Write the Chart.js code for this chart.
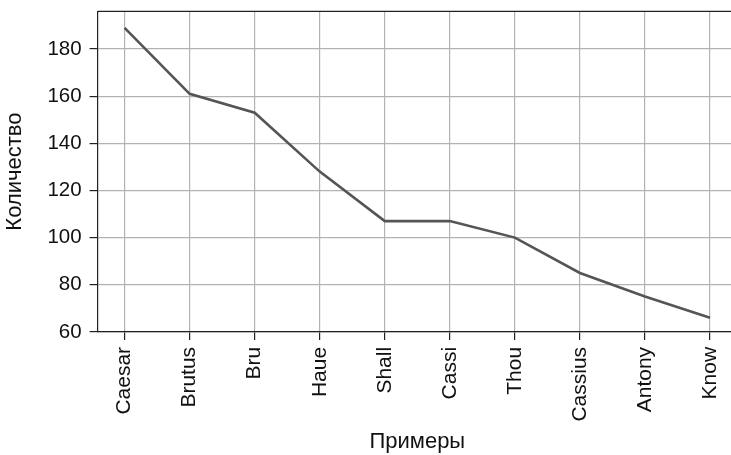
<!DOCTYPE html>
<html>
<head>
<meta charset="utf-8">
<script src="https://cdn.jsdelivr.net/npm/chart.js@4/dist/chart.umd.min.js"></script>
<style>
  html, body { margin: 0; padding: 0; background: #fff; overflow: hidden; }
  #myChart { display: block; margin-top: -9px; }
</style>
</head>
<body>
<canvas id="myChart" width="745" height="464"></canvas>
<script>
const categorias = ['Caesar', 'Brutus', 'Bru', 'Haue', 'Shall', 'Cassi', 'Thou', 'Cassius', 'Antony', 'Know'];
const cantidades = [189, 161, 153, 128, 107, 107, 100, 85, 75, 66];
const yTicks = [60, 80, 100, 120, 140, 160, 180];

const familia = "'Liberation Sans', Arial, sans-serif";

// marco superior y derecho del area del grafico
const marco = {
    id: 'marco',
    afterDraw(chart) {
        const a = chart.chartArea;
        const c = chart.ctx;
        c.save();
        c.strokeStyle = '#222';
        c.lineWidth = 1.2;
        c.beginPath();
        c.moveTo(a.left, a.top);
        c.lineTo(a.right, a.top);
        c.lineTo(a.right, a.bottom);
        c.stroke();
        c.restore();
    }
};

const ctx = document.getElementById('myChart').getContext('2d');
const myChart = new Chart(ctx, {
    type: 'line',
    data: {
        datasets: [{
            data: cantidades.map((v, i) => ({ x: i, y: v })),
            borderColor: '#555555',
            borderWidth: 2.6,
            pointRadius: 0,
            tension: 0,
            fill: false
        }]
    },
    options: {
        responsive: false,
        animation: false,
        layout: { padding: { left: 2, right: 8, top: 0, bottom: 0 } },
        plugins: { legend: { display: false }, tooltip: { enabled: false } },
        scales: {
            x: {
                type: 'linear',
                min: -0.415,
                max: 9.415,
                grid: { color: '#b3b3b3', lineWidth: 1.2, tickLength: 8, tickColor: '#222' },
                border: { color: '#222', width: 1.2 },
                ticks: {
                    stepSize: 1,
                    includeBounds: false,
                    minRotation: 90,
                    maxRotation: 90,
                    autoSkip: false,
                    color: '#111',
                    font: { family: familia, size: 21 },
                    padding: 7,
                    callback: (v) => categorias[v] ?? ''
                },
                title: { display: true, text: 'Примеры', color: '#111', font: { family: familia, size: 22 }, padding: { top: 0, bottom: 0 } }
            },
            y: {
                min: 60,
                max: 196,
                afterBuildTicks: (axis) => { axis.ticks = yTicks.map(v => ({ value: v })); },
                grid: { color: '#b3b3b3', lineWidth: 1.2, tickLength: 8, tickColor: '#222' },
                border: { color: '#222', width: 1.2 },
                ticks: { color: '#111', font: { family: familia, size: 20.5 }, padding: 8 },
                title: { display: true, text: 'Количество', color: '#111', font: { family: familia, size: 22 }, padding: { top: 0, bottom: 11 } }
            }
        }
    },
    plugins: [marco]
});
</script>
</body>
</html>
